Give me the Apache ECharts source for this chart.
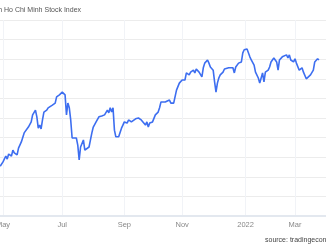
<!DOCTYPE html>
<html>
<head>
<meta charset="utf-8">
<script src="https://cdn.jsdelivr.net/npm/echarts@6/dist/echarts.min.js"></script>
<style>html,body{margin:0;padding:0;background:#fff}#c{width:326px;height:245px}</style>
</head>
<body>
<div id="c"></div>
<script>
// trading-day index (0 = 4 May 2021) and index level
var dayIndex = [-2,0,2,3,4,6,7,8,10,11,13,15,16,18,20,21,23,24,25,26,27,28,29,31,32,33,35,37,38,40,42,43,44,45,46,47,48,49,50,52,53,54,55,56,57,58,59,61,62,63,64,66,67,68,69,70,72,73,74,75,76,77,78,79,80,81,82,84,85,86,87,88,89,91,92,94,96,97,98,99,101,102,103,104,105,106,107,108,110,111,112,113,115,118,119,121,122,123,125,126,127,128,129,130,132,133,134,135,136,137,139,140,141,142,143,145,146,147,148,149,150,151,152,153,154,156,157,158,160,163,164,165,167,168,169,170,171,172,173,174,175,176,177,178,179,181,182,183,184,185,186,188,189,190,191,192,194,195,196,198,199,201,202,203,204,205,206,207,208,209,210,212,213,214,215,216,218,219,220,221,223,224];
var values = [1227,1238,1253,1245,1258,1253,1268,1261,1256,1273,1289,1312,1314,1327,1340,1358,1370,1353,1324,1332,1322,1345,1365,1370,1376,1378,1383,1388,1404,1409,1416,1419,1409,1358,1388,1376,1345,1299,1294,1299,1281,1243,1276,1281,1294,1268,1273,1276,1294,1312,1327,1340,1337,1353,1350,1355,1358,1363,1370,1363,1376,1365,1376,1319,1302,1307,1302,1324,1332,1340,1345,1337,1345,1340,1345,1348,1350,1353,1345,1348,1332,1340,1327,1337,1337,1340,1345,1358,1365,1376,1391,1391,1391,1396,1388,1388,1391,1421,1439,1442,1447,1452,1447,1465,1460,1467,1465,1472,1465,1475,1467,1465,1455,1478,1490,1498,1490,1480,1485,1472,1442,1416,1439,1452,1460,1467,1475,1478,1478,1478,1465,1480,1490,1485,1493,1516,1524,1529,1526,1524,1506,1498,1503,1485,1467,1452,1439,1442,1465,1442,1467,1472,1480,1493,1498,1503,1493,1472,1498,1506,1508,1511,1503,1511,1498,1503,1493,1501,1490,1485,1472,1478,1467,1465,1450,1455,1460,1465,1472,1493,1501,1498];
// month tick positions (trading-day index) and their labels
var monthIdx = [0,42,86,127,172,207];
var monthLabels = ['May','Jul','Sep','Nov','2022','Mar'];
var titleText = 'Vietnam Ho Chi Minh Stock Index';
var sourceText = 'source: tradingeconomics.com';

var pts = dayIndex.map(function(d,i){return [d, values[i]];});
var chart = echarts.init(document.getElementById('c'), null, {renderer:'canvas'});
chart.setOption({
  animation:false,
  grid:{left:0,right:0,top:20,bottom:29,containLabel:false,outerBoundsMode:'none'},
  xAxis:{
    type:'value', min:-2.127, max:228.98,
    axisLine:{show:true,lineStyle:{color:'#e3e8ef',width:2}},
    axisTick:{show:false,customValues:monthIdx},
    axisLabel:{customValues:monthIdx,color:'#888',fontSize:7.5,margin:5,fontFamily:'Liberation Sans',
      align:'center',
      formatter:function(v){var k=monthIdx.indexOf(v);return k>=0?monthLabels[k]:'';}},
    splitLine:{show:true,lineStyle:{color:'#f1f3f7',width:1}}
  },
  yAxis:{
    type:'value', min:1100, max:1600, interval:50,
    axisLine:{show:false},axisTick:{show:false},axisLabel:{show:false},
    splitLine:{show:true,lineStyle:{color:'#ececec',width:1}}
  },
  series:[{type:'line',data:pts,showSymbol:false,smooth:false,
    lineStyle:{color:'#3d6ef0',width:1.6},itemStyle:{color:'#3d6ef0'}}],
  graphic:[
    {type:'text',left:-23.5,top:7,style:{text:titleText,fill:'#555',font:'7px "Liberation Sans"'}},
    {type:'text',left:265,top:237,style:{text:sourceText,fill:'#444',font:'7px "Liberation Sans"'}}
  ]
});
</script>
</body>
</html>
